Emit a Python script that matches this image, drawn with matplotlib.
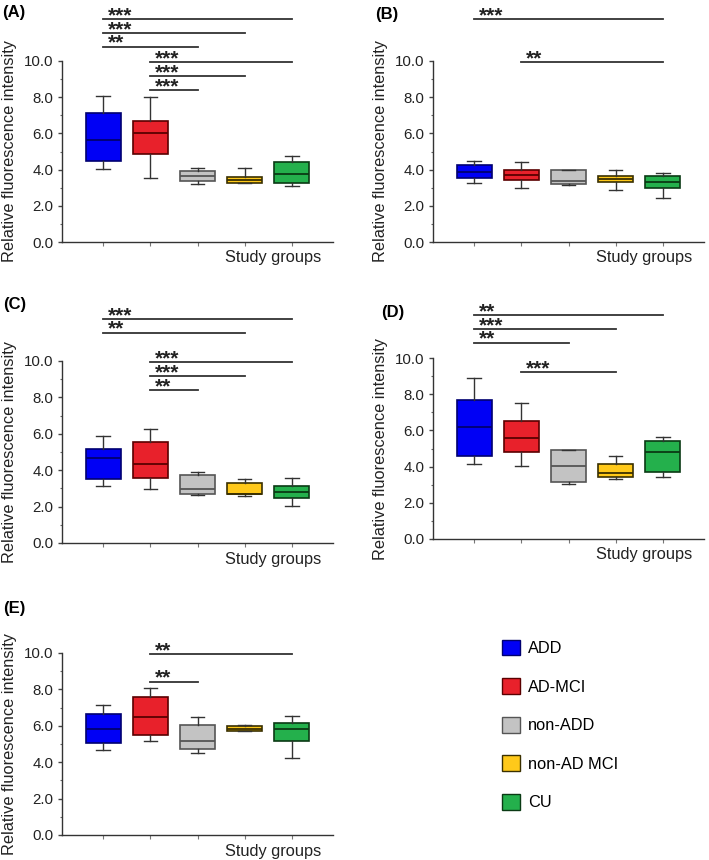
import matplotlib
matplotlib.use('Agg')
import matplotlib.pyplot as plt
from matplotlib.patches import Patch
from matplotlib.ticker import MultipleLocator, FormatStrFormatter

plt.rcParams['font.family'] = ['Liberation Sans', 'DejaVu Sans']

groups = ['ADD', 'AD-MCI', 'non-ADD', 'non-AD MCI', 'CU']
fills = ['#0000F5', '#E8212B', '#C3C3C3', '#FFC91A', '#24B04C']
edges = ['#000070', '#5a0000', '#555555', '#3a3000', '#0a3a14']

# box statistics (whisker low, Q1, median, Q3, whisker high)
A_low = [4.03, 3.54, 3.22, 3.28, 3.08]
A_q1 = [4.49, 4.86, 3.37, 3.28, 3.28]
A_med = [5.62, 6.02, 3.63, 3.44, 3.74]
A_q3 = [7.13, 6.67, 3.92, 3.61, 4.44]
A_high = [8.05, 7.99, 4.09, 4.09, 4.73]

B_low = [3.28, 2.97, 3.17, 2.85, 2.43]
B_q1 = [3.54, 3.43, 3.20, 3.33, 3.00]
B_med = [3.87, 3.72, 3.39, 3.50, 3.33]
B_q3 = [4.24, 4.00, 3.96, 3.63, 3.63]
B_high = [4.46, 4.42, 4.00, 3.96, 3.79]

C_low = [3.15, 2.97, 2.61, 2.56, 2.04]
C_q1 = [3.52, 3.59, 2.70, 2.67, 2.50]
C_med = [4.69, 4.36, 2.98, 2.68, 2.79]
C_q3 = [5.15, 5.55, 3.73, 3.29, 3.14]
C_high = [5.90, 6.26, 3.88, 3.51, 3.57]

D_low = [4.14, 4.01, 3.05, 3.31, 3.42]
D_q1 = [4.60, 4.82, 3.14, 3.40, 3.69]
D_med = [6.21, 5.57, 4.01, 3.64, 4.78]
D_q3 = [7.67, 6.51, 4.89, 4.17, 5.40]
D_high = [8.90, 7.50, 4.93, 4.60, 5.63]

E_low = [4.68, 5.14, 4.50, 5.69, 4.22]
E_q1 = [5.05, 5.47, 4.73, 5.72, 5.17]
E_med = [5.85, 6.46, 5.14, 5.85, 5.83]
E_q3 = [6.64, 7.56, 6.02, 5.98, 6.18]
E_high = [7.16, 8.07, 6.51, 6.02, 6.55]

# significance brackets: (from group, to group, height, label)
A_sig = [(1, 5, 12.3, '***'), (1, 4, 11.55, '***'), (1, 3, 10.8, '**'),
         (2, 5, 9.95, '***'), (2, 4, 9.15, '***'), (2, 3, 8.4, '***')]
B_sig = [(1, 5, 12.3, '***'), (2, 5, 9.95, '**')]
C_sig = [(1, 5, 12.3, '***'), (1, 4, 11.55, '**'),
         (2, 5, 9.95, '***'), (2, 4, 9.15, '***'), (2, 3, 8.4, '**')]
D_sig = [(1, 5, 12.35, '**'), (1, 4, 11.6, '***'), (1, 3, 10.85, '**'),
         (2, 4, 9.2, '***')]
E_sig = [(2, 5, 9.93, '**'), (2, 3, 8.42, '**')]

W, H = 709, 860
fig = plt.figure(figsize=(W / 100, H / 100), dpi=100)


def panel(x0, ybot, ytop, letter, lx, ly, low, q1, med, q3, high, sig):
    ax = fig.add_axes([x0 / W, 1 - ybot / H, 271 / W, (ybot - ytop) / H])
    stats = []
    for i in range(5):
        stats.append(dict(whislo=low[i], q1=q1[i], med=med[i], q3=q3[i],
                          whishi=high[i], label=groups[i]))
    res = ax.bxp(stats, positions=range(1, 6), widths=0.74, capwidths=0.28,
                 showfliers=False, patch_artist=True,
                 whiskerprops=dict(color='#333333', lw=1),
                 capprops=dict(color='#333333', lw=1),
                 medianprops=dict(lw=1.3))
    for i in range(5):
        res['boxes'][i].set_facecolor(fills[i])
        res['boxes'][i].set_edgecolor(edges[i])
        res['boxes'][i].set_linewidth(1.2)
        res['medians'][i].set_color(edges[i])
    ax.set_xlim(0.13, 5.87)
    ax.set_ylim(0, 10)
    for s in ['top', 'right']:
        ax.spines[s].set_visible(False)
    for s in ['left', 'bottom']:
        ax.spines[s].set_color('#333333')
        ax.spines[s].set_linewidth(1)
    ax.yaxis.set_major_locator(MultipleLocator(2))
    ax.yaxis.set_minor_locator(MultipleLocator(1))
    ax.yaxis.set_major_formatter(FormatStrFormatter('%.1f'))
    ax.tick_params(axis='y', which='major', length=3, width=1, color='#444444',
                   labelsize=10.8, labelcolor='#222222', pad=3)
    ax.tick_params(axis='y', which='minor', length=1.8, width=0.8, color='#666666')
    ax.tick_params(axis='x', length=3, width=0.8, color='#777777', labelbottom=False)
    ax.set_ylabel('Relative fluorescence intensity', fontsize=11.8,
                  color='#222222', labelpad=5)
    ax.text(5.63, -0.088, 'Study groups', transform=ax.get_xaxis_transform(),
            ha='right', va='center', fontsize=11.8, color='#222222')
    for g1, g2, y, lab in sig:
        ax.plot([g1, g2], [y, y], color='#333333', lw=1.3, clip_on=False)
        ax.annotate(lab, xy=(g1, y), xytext=(3.5, -1.5), textcoords='offset points',
                    ha='left', va='baseline', fontsize=15, fontweight='bold',
                    color='#222222', annotation_clip=False)
    fig.text(lx / W, 1 - ly / H, letter, fontsize=12, fontweight='bold',
             ha='left', va='center')
    return ax


panel(62, 242, 61, '(A)', 2, 12, A_low, A_q1, A_med, A_q3, A_high, A_sig)
panel(433, 242, 61, '(B)', 375, 14, B_low, B_q1, B_med, B_q3, B_high, B_sig)
panel(62, 543, 361, '(C)', 3, 305, C_low, C_q1, C_med, C_q3, C_high, C_sig)
panel(433, 539, 358, '(D)', 381, 313, D_low, D_q1, D_med, D_q3, D_high, D_sig)
panel(62, 835, 653, '(E)', 3, 608, E_low, E_q1, E_med, E_q3, E_high, E_sig)

handles = [Patch(facecolor=fills[i], edgecolor=edges[i], lw=1) for i in range(5)]
fig.legend(handles, groups, loc='center left', bbox_to_anchor=(502 / W, 1 - 725 / H),
           frameon=False, fontsize=11.8, handlelength=1.1, handleheight=1.1,
           handletextpad=0.5, labelspacing=1.35, borderpad=0, borderaxespad=0)

plt.savefig('out.png', dpi=100)
